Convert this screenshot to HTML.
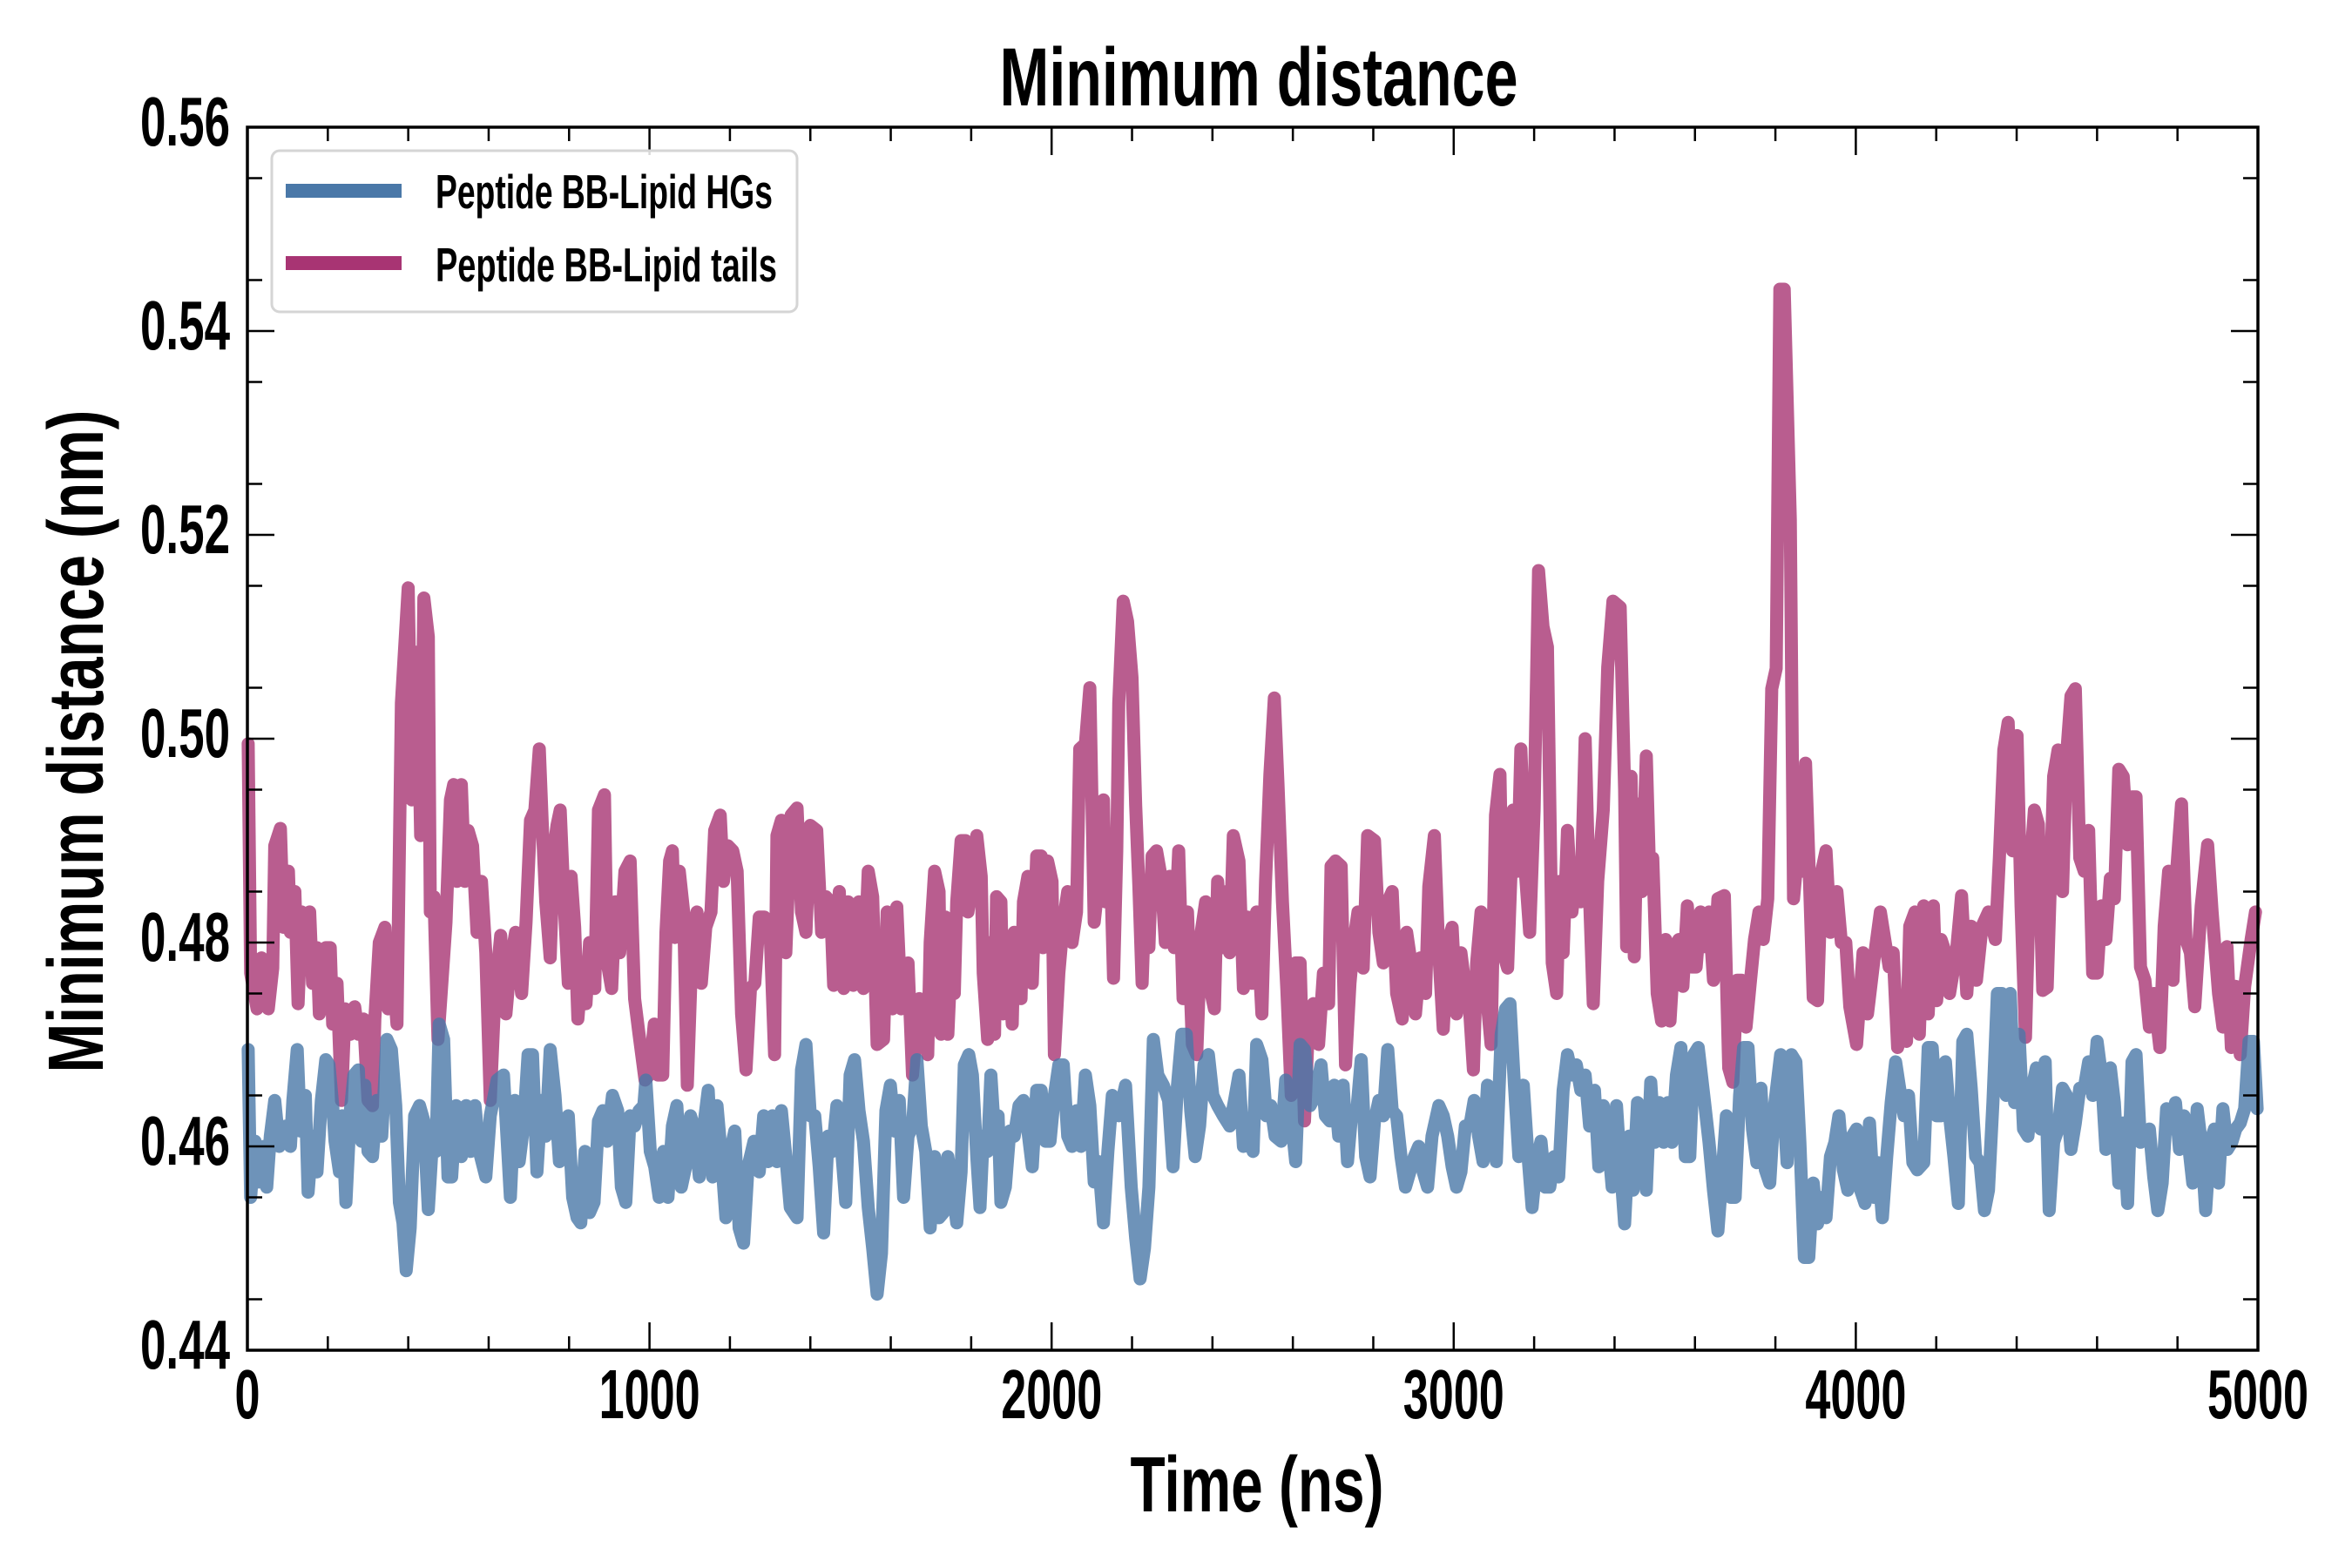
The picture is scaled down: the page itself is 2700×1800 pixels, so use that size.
<!DOCTYPE html>
<html><head><meta charset="utf-8"><style>
html,body{margin:0;padding:0;background:#fff}
svg{display:block}
text{font-family:"Liberation Sans Narrow","Liberation Sans",sans-serif;font-weight:bold;fill:#000}
</style></head><body>
<svg id="chart" width="2700" height="1800" viewBox="0 0 2700 1800">
<rect width="2700" height="1800" fill="#fff"/>
<g id="series"></g>
<g id="axes"></g>
<text x="1445" y="121" font-size="95" text-anchor="middle" textLength="595" lengthAdjust="spacingAndGlyphs">Minimum distance</text>
<text x="1443" y="1735" font-size="90" text-anchor="middle" textLength="291" lengthAdjust="spacingAndGlyphs">Time (ns)</text>
<text transform="translate(118,851) rotate(-90)" x="0" y="0" font-size="90" text-anchor="middle" textLength="761" lengthAdjust="spacingAndGlyphs">Minimum distance (nm)</text>
<g>
<rect x="312" y="173" width="603" height="185" rx="9" ry="9" fill="#fff" fill-opacity="0.85" stroke="#d5d5d5" stroke-width="3"/>
<g>
<rect x="328" y="211" width="133" height="16" fill="#4a78a8"/>
<text x="500" y="239" font-size="55" textLength="387" lengthAdjust="spacingAndGlyphs">Peptide BB-Lipid HGs</text>
</g>
<g>
<rect x="328" y="294" width="133" height="16" fill="#a83473"/>
<text x="500" y="323" font-size="55" textLength="392" lengthAdjust="spacingAndGlyphs">Peptide BB-Lipid tails</text>
</g>
</g>
</svg>
<script>
const xTicks=[0,1000,2000,3000,4000,5000];
const xTickLabels=["0","1000","2000","3000","4000","5000"];
const yTicks=[0.44,0.46,0.48,0.50,0.52,0.54,0.56];
const yTickLabels=["0.44","0.46","0.48","0.50","0.52","0.54","0.56"];
const tailsT=[2,8,24,35,52,63,68,82,90,102,107,118,126,135,146,155,162,173,179,195,206,212,223,234,243,256,267,276,289,300,311,317,328,342,350,361,372,383,400,409,422,431,439,450,455,464,474,494,505,513,521,532,541,549,560,571,582,593,604,615,630,643,654,667,682,693,704,715,726,734,742,753,762,770,778,787,798,805,814,822,833,842,851,864,873,888,895,906,915,926,939,952,963,974,989,999,1012,1021,1033,1041,1050,1057,1063,1074,1085,1094,1107,1118,1129,1140,1153,1162,1176,1184,1195,1207,1218,1229,1240,1251,1262,1273,1286,1300,1311,1317,1328,1339,1352,1367,1378,1389,1400,1416,1428,1439,1450,1458,1472,1483,1494,1507,1521,1532,1544,1555,1566,1582,1591,1604,1615,1626,1643,1654,1671,1692,1698,1709,1720,1725,1736,1742,1753,1758,1764,1775,1786,1792,1803,1814,1825,1830,1841,1847,1858,1863,1874,1880,1891,1902,1907,1913,1924,1930,1941,1952,1963,1974,1979,1990,2001,2007,2018,2029,2040,2051,2062,2070,2084,2095,2106,2117,2129,2134,2145,2154,2162,2167,2178,2189,2200,2209,2217,2225,2234,2242,2250,2261,2272,2283,2294,2305,2316,2327,2338,2350,2361,2372,2383,2394,2405,2413,2424,2435,2443,2452,2466,2477,2488,2499,2510,2523,2532,2543,2554,2563,2574,2585,2596,2607,2618,2629,2640,2651,2664,2676,2689,2695,2706,2720,2731,2742,2751,2762,2775,2786,2803,2814,2825,2836,2847,2858,2872,2883,2894,2905,2917,2930,2938,2952,2963,2974,2985,2996,3007,3018,3029,3040,3049,3057,3068,3079,3093,3104,3115,3123,3134,3148,3159,3167,3178,3189,3200,3211,3222,3233,3245,3256,3264,3272,3283,3294,3305,3316,3327,3336,3347,3358,3372,3383,3396,3414,3425,3430,3441,3449,3457,3468,3479,3487,3495,3506,3517,3527,3538,3549,3560,3570,3581,3592,3603,3614,3624,3635,3646,3657,3673,3684,3694,3705,3716,3727,3738,3748,3759,3770,3781,3791,3802,3811,3822,3829,3837,3845,3856,3867,3875,3883,3894,3905,3915,3926,3937,3953,3964,3975,3985,4002,4018,4029,4045,4061,4072,4083,4093,4104,4115,4126,4134,4147,4158,4169,4180,4193,4201,4212,4223,4233,4250,4263,4276,4287,4300,4314,4330,4347,4357,4368,4379,4390,4401,4411,4422,4433,4444,4454,4465,4476,4492,4503,4514,4524,4535,4546,4557,4568,4579,4589,4600,4611,4622,4633,4643,4654,4665,4676,4687,4697,4708,4719,4730,4741,4756,4767,4778,4789,4799,4810,4821,4832,4843,4859,4875,4886,4902,4913,4923,4934,4945,4956,4967,4983,4994];
const tailsV=[0.4995,0.477,0.4735,0.4785,0.4735,0.4775,0.4895,0.4912,0.4815,0.487,0.481,0.485,0.474,0.483,0.4775,0.483,0.476,0.4795,0.473,0.4795,0.4795,0.472,0.476,0.4645,0.4735,0.471,0.4737,0.471,0.4725,0.4645,0.464,0.4725,0.480,0.4815,0.4735,0.478,0.472,0.5035,0.5148,0.494,0.5085,0.4905,0.5138,0.510,0.483,0.4845,0.4705,0.482,0.494,0.4955,0.486,0.4955,0.486,0.491,0.4895,0.481,0.486,0.479,0.4645,0.4745,0.4807,0.473,0.478,0.481,0.475,0.482,0.492,0.493,0.499,0.491,0.484,0.4785,0.489,0.4915,0.493,0.4845,0.476,0.4865,0.4815,0.4725,0.478,0.474,0.480,0.4755,0.493,0.4945,0.478,0.4755,0.484,0.479,0.487,0.488,0.4745,0.471,0.4665,0.467,0.472,0.467,0.467,0.481,0.488,0.489,0.4805,0.487,0.483,0.466,0.481,0.483,0.476,0.4815,0.483,0.491,0.4925,0.486,0.4895,0.489,0.487,0.473,0.4675,0.4755,0.476,0.4825,0.4825,0.481,0.469,0.4905,0.492,0.479,0.4925,0.4932,0.483,0.481,0.4915,0.491,0.481,0.4845,0.484,0.4758,0.485,0.4755,0.484,0.4758,0.484,0.4755,0.487,0.4845,0.470,0.4705,0.483,0.4735,0.4835,0.4735,0.478,0.467,0.4745,0.469,0.480,0.487,0.485,0.471,0.4825,0.471,0.481,0.475,0.484,0.490,0.490,0.483,0.486,0.4905,0.4865,0.477,0.4705,0.480,0.471,0.4845,0.484,0.473,0.480,0.472,0.481,0.4755,0.4745,0.484,0.4865,0.476,0.4885,0.4885,0.4795,0.488,0.486,0.469,0.477,0.482,0.485,0.480,0.483,0.499,0.4995,0.505,0.482,0.486,0.494,0.484,0.490,0.4765,0.489,0.5035,0.5135,0.5115,0.506,0.4935,0.4855,0.476,0.486,0.4795,0.4885,0.489,0.4865,0.480,0.4865,0.4795,0.489,0.4745,0.483,0.470,0.469,0.481,0.484,0.4755,0.4735,0.486,0.4795,0.485,0.479,0.4905,0.488,0.4755,0.4825,0.476,0.483,0.473,0.486,0.4965,0.504,0.4955,0.484,0.4755,0.465,0.478,0.478,0.4625,0.473,0.474,0.470,0.477,0.474,0.4875,0.488,0.4875,0.468,0.476,0.480,0.483,0.4775,0.4905,0.490,0.481,0.478,0.484,0.485,0.475,0.4725,0.481,0.478,0.473,0.4785,0.475,0.4855,0.4905,0.479,0.4715,0.480,0.4815,0.473,0.479,0.4755,0.473,0.4675,0.478,0.483,0.476,0.470,0.4925,0.4965,0.479,0.4775,0.493,0.487,0.499,0.487,0.481,0.493,0.5165,0.511,0.509,0.478,0.475,0.486,0.479,0.491,0.483,0.487,0.484,0.500,0.4865,0.474,0.486,0.493,0.507,0.5135,0.5129,0.495,0.4796,0.4963,0.4786,0.4936,0.485,0.4983,0.487,0.4883,0.475,0.4723,0.4803,0.4723,0.4796,0.4803,0.4757,0.4836,0.4776,0.4776,0.483,0.4796,0.483,0.4763,0.4843,0.4846,0.4677,0.4663,0.4763,0.4763,0.4717,0.4763,0.4803,0.483,0.4803,0.4843,0.5049,0.5069,0.5441,0.5441,0.5335,0.5215,0.4843,0.489,0.487,0.4976,0.4883,0.4746,0.4743,0.487,0.489,0.481,0.485,0.480,0.480,0.4737,0.470,0.479,0.473,0.4783,0.483,0.4803,0.4776,0.479,0.4697,0.4717,0.4703,0.4816,0.483,0.471,0.4836,0.473,0.4836,0.4743,0.4803,0.479,0.475,0.479,0.4846,0.475,0.4816,0.4763,0.4816,0.483,0.4803,0.4883,0.4989,0.5016,0.489,0.5003,0.4836,0.4707,0.487,0.493,0.4916,0.4753,0.4756,0.4963,0.4989,0.485,0.4983,0.5042,0.5049,0.4883,0.487,0.491,0.477,0.477,0.4836,0.4803,0.4863,0.4843,0.497,0.4963,0.4896,0.4943,0.4943,0.4776,0.4763,0.4717,0.475,0.4697,0.4816,0.487,0.4763,0.4876,0.4936,0.4803,0.479,0.4737,0.4836,0.4896,0.483,0.475,0.4717,0.4796,0.4697,0.4757,0.469,0.4757,0.4803,0.483];
const hgsT=[2,8,19,30,41,48,57,68,79,96,107,113,124,132,144,151,162,173,184,195,203,212,218,229,236,245,256,265,276,284,292,300,311,322,334,347,358,369,378,387,395,405,416,428,439,450,461,469,477,488,499,508,519,532,544,555,566,577,593,604,621,637,654,665,676,687,698,709,720,731,742,753,765,776,787,798,809,820,829,840,851,862,873,884,895,908,921,930,941,952,963,974,986,991,1002,1013,1024,1035,1046,1057,1068,1079,1090,1102,1113,1124,1135,1146,1157,1168,1179,1190,1201,1212,1223,1234,1245,1260,1273,1284,1295,1306,1317,1328,1339,1350,1367,1378,1389,1400,1411,1422,1433,1444,1455,1466,1477,1488,1499,1510,1521,1532,1544,1555,1566,1577,1588,1599,1610,1621,1632,1643,1654,1665,1676,1687,1698,1709,1720,1731,1742,1753,1764,1775,1783,1794,1803,1814,1822,1830,1841,1849,1860,1867,1874,1885,1896,1907,1919,1930,1941,1952,1963,1974,1985,1996,2007,2018,2029,2040,2051,2062,2073,2084,2095,2106,2117,2129,2140,2151,2167,2184,2198,2209,2220,2231,2242,2253,2264,2278,2291,2302,2313,2324,2335,2346,2357,2368,2379,2390,2401,2413,2427,2443,2455,2466,2477,2490,2501,2510,2523,2534,2545,2556,2571,2582,2593,2607,2618,2629,2643,2656,2670,2681,2692,2703,2714,2725,2736,2747,2758,2770,2781,2792,2803,2814,2825,2836,2847,2858,2869,2880,2891,2902,2913,2924,2935,2946,2963,2974,2985,2996,3007,3018,3029,3040,3051,3062,3073,3084,3095,3106,3118,3129,3140,3151,3162,3173,3184,3195,3206,3217,3228,3239,3250,3261,3272,3283,3294,3305,3316,3327,3338,3350,3361,3372,3383,3394,3405,3414,3425,3436,3446,3457,3468,3479,3490,3500,3511,3522,3533,3543,3554,3565,3576,3587,3597,3608,3624,3635,3646,3657,3667,3678,3689,3700,3711,3721,3732,3743,3754,3764,3775,3786,3797,3813,3829,3840,3851,3861,3872,3883,3894,3905,3915,3926,3937,3948,3958,3969,3980,3991,4002,4012,4023,4034,4045,4055,4066,4077,4088,4099,4109,4120,4131,4142,4153,4169,4180,4190,4201,4212,4223,4233,4244,4255,4266,4276,4287,4298,4309,4320,4330,4341,4352,4363,4374,4384,4395,4406,4417,4428,4438,4449,4460,4471,4481,4492,4503,4514,4524,4535,4546,4557,4568,4579,4589,4600,4611,4622,4633,4643,4654,4665,4676,4687,4697,4708,4719,4730,4741,4751,4762,4773,4784,4795,4805,4816,4827,4838,4849,4859,4870,4881,4892,4902,4913,4924,4935,4945,4956,4967,4978,4989,4998];
const hgsV=[0.4695,0.455,0.4605,0.4565,0.460,0.456,0.461,0.4645,0.460,0.462,0.460,0.4645,0.4695,0.4615,0.465,0.4555,0.461,0.4575,0.4645,0.4685,0.468,0.464,0.4605,0.4575,0.463,0.4545,0.4635,0.467,0.4675,0.4605,0.466,0.4595,0.459,0.4645,0.461,0.4705,0.4695,0.464,0.4545,0.4525,0.4478,0.452,0.463,0.464,0.4625,0.4538,0.461,0.4595,0.472,0.4705,0.457,0.457,0.464,0.459,0.464,0.4595,0.464,0.4595,0.457,0.463,0.4665,0.467,0.455,0.4645,0.4585,0.462,0.469,0.469,0.4575,0.4645,0.461,0.4695,0.465,0.4585,0.4595,0.463,0.455,0.453,0.4525,0.4595,0.4535,0.4545,0.4625,0.4635,0.4605,0.465,0.4635,0.456,0.4545,0.463,0.462,0.4635,0.464,0.4665,0.4595,0.458,0.455,0.4595,0.455,0.462,0.464,0.456,0.458,0.463,0.4615,0.457,0.462,0.4655,0.457,0.464,0.459,0.453,0.4595,0.4615,0.452,0.4505,0.458,0.4605,0.4575,0.463,0.4585,0.463,0.4585,0.4635,0.459,0.454,0.453,0.4675,0.470,0.463,0.463,0.458,0.4515,0.461,0.4595,0.464,0.460,0.4545,0.467,0.4685,0.4635,0.4605,0.454,0.450,0.4455,0.4495,0.4635,0.466,0.4615,0.4645,0.455,0.461,0.462,0.4685,0.462,0.4595,0.452,0.459,0.453,0.4535,0.459,0.456,0.4525,0.4575,0.468,0.469,0.467,0.459,0.454,0.461,0.4595,0.467,0.460,0.463,0.4545,0.456,0.4615,0.461,0.464,0.4645,0.4615,0.458,0.4655,0.4655,0.4605,0.4605,0.465,0.468,0.468,0.461,0.460,0.4635,0.460,0.467,0.464,0.4565,0.4585,0.4525,0.4595,0.465,0.463,0.466,0.456,0.451,0.447,0.450,0.456,0.4705,0.467,0.466,0.4645,0.458,0.466,0.471,0.471,0.4635,0.459,0.462,0.468,0.469,0.465,0.464,0.463,0.462,0.4645,0.467,0.460,0.4615,0.4595,0.470,0.4685,0.463,0.464,0.461,0.4605,0.4665,0.464,0.4585,0.470,0.4695,0.464,0.465,0.468,0.463,0.4625,0.466,0.461,0.466,0.4585,0.4635,0.463,0.4685,0.459,0.457,0.4625,0.4645,0.463,0.4695,0.4635,0.463,0.459,0.456,0.4575,0.459,0.460,0.4575,0.456,0.461,0.464,0.463,0.461,0.458,0.456,0.4575,0.462,0.462,0.4645,0.461,0.4585,0.466,0.461,0.4585,0.471,0.4735,0.474,0.466,0.459,0.466,0.4595,0.454,0.4585,0.4605,0.456,0.456,0.459,0.457,0.4655,0.469,0.467,0.468,0.4655,0.467,0.462,0.4655,0.458,0.464,0.461,0.456,0.464,0.4584,0.4524,0.461,0.4557,0.4643,0.4604,0.4557,0.4663,0.4604,0.4643,0.4604,0.4643,0.4604,0.467,0.4697,0.459,0.459,0.469,0.4697,0.4643,0.4604,0.4557,0.4517,0.457,0.463,0.455,0.455,0.465,0.4697,0.4697,0.4617,0.4584,0.4657,0.4577,0.4564,0.4637,0.469,0.4584,0.469,0.4683,0.4604,0.4491,0.4491,0.4564,0.4524,0.455,0.453,0.459,0.4604,0.463,0.4577,0.4557,0.461,0.4617,0.4557,0.4544,0.4623,0.455,0.4584,0.453,0.459,0.4643,0.4683,0.4657,0.463,0.465,0.4584,0.4577,0.4584,0.4697,0.4697,0.463,0.463,0.4683,0.463,0.459,0.4544,0.4703,0.471,0.4657,0.459,0.4584,0.4537,0.4557,0.4643,0.475,0.475,0.465,0.475,0.4643,0.471,0.4617,0.461,0.4657,0.4677,0.4617,0.4683,0.4537,0.4604,0.4617,0.4657,0.465,0.4597,0.4623,0.4657,0.4657,0.4683,0.465,0.4703,0.467,0.4597,0.4677,0.4643,0.4564,0.4623,0.4544,0.4683,0.469,0.4604,0.461,0.4617,0.457,0.4537,0.4564,0.4637,0.4617,0.4643,0.4597,0.463,0.4604,0.4564,0.4637,0.4604,0.4537,0.4604,0.4617,0.4564,0.4637,0.4597,0.4604,0.4617,0.4623,0.4637,0.4703,0.4703,0.4637];

const L=284,R=2592,T=146,B=1550,X0=0,X1=5000,Y0=0.44,Y1=0.56;
function xs(t){return L+(t-X0)/(X1-X0)*(R-L);}
function ys(v){return B-(v-Y0)/(Y1-Y0)*(B-T);}
const NS="http://www.w3.org/2000/svg";
const series=document.getElementById('series');
const axes=document.getElementById('axes');
function linePath(ts,vs){let d="";for(let i=0;i<ts.length;i++){d+=(i?"L":"M")+xs(ts[i]).toFixed(1)+","+ys(vs[i]).toFixed(1);}return d;}
const pTails=document.createElementNS(NS,'path');


pTails.setAttribute('d',linePath(tailsT,tailsV));
pTails.setAttribute('fill','none');pTails.setAttribute('stroke','#a83473');pTails.setAttribute('stroke-opacity','0.8');
pTails.setAttribute('stroke-width','15');pTails.setAttribute('stroke-linejoin','round');pTails.setAttribute('stroke-linecap','round');
series.appendChild(pTails);
const pHgs=document.createElementNS(NS,'path');


pHgs.setAttribute('d',linePath(hgsT,hgsV));
pHgs.setAttribute('fill','none');pHgs.setAttribute('stroke','#4a78a8');pHgs.setAttribute('stroke-opacity','0.8');
pHgs.setAttribute('stroke-width','15');pHgs.setAttribute('stroke-linejoin','round');pHgs.setAttribute('stroke-linecap','round');
series.appendChild(pHgs);

function ln(x1,y1,x2,y2,w){const l=document.createElementNS(NS,'line');l.setAttribute('x1',x1);l.setAttribute('y1',y1);l.setAttribute('x2',x2);l.setAttribute('y2',y2);l.setAttribute('stroke','#000');l.setAttribute('stroke-width',w);axes.appendChild(l);return l;}
for(let t=200;t<5000;t+=200){if(t%1000===0)continue;const x=xs(t);
 const a=ln(x,B,x,B-16,2.5);
 
 
 const b=ln(x,T,x,T+16,2.5);
 
 }
for(let v=0.445;v<0.56;v+=0.005){if(Math.abs(Math.round(v*100)/100-v)<1e-6)continue;const y=ys(v);
 const a=ln(L,y,L+17,y,2.5);
 
 
 const b=ln(R,y,R-17,y,2.5);
 
 }
xTicks.forEach((t,i)=>{const x=xs(t);
 const a=ln(x,B,x,B-32,2.5);
 
 
 const b=ln(x,T,x,T+32,2.5);
 
 
 const tx=document.createElementNS(NS,'text');
 
 
 tx.setAttribute('x',x);tx.setAttribute('y',1628);tx.setAttribute('font-size','80');tx.setAttribute('text-anchor','middle');
 tx.setAttribute('textLength',(xTickLabels[i].length*29).toString());tx.setAttribute('lengthAdjust','spacingAndGlyphs');
 tx.textContent=xTickLabels[i];axes.appendChild(tx);});
yTicks.forEach((v,i)=>{const y=ys(v);
 const a=ln(L,y,L+31,y,2.5);
 
 
 const b=ln(R,y,R-31,y,2.5);
 
 
 const tx=document.createElementNS(NS,'text');
 
 
 tx.setAttribute('x',264);tx.setAttribute('y',y+21);tx.setAttribute('font-size','80');tx.setAttribute('text-anchor','end');
 tx.setAttribute('textLength','103');tx.setAttribute('lengthAdjust','spacingAndGlyphs');
 tx.textContent=yTickLabels[i];axes.appendChild(tx);});
const frame=document.createElementNS(NS,'rect');


frame.setAttribute('x',L);frame.setAttribute('y',T);frame.setAttribute('width',R-L);frame.setAttribute('height',B-T);
frame.setAttribute('fill','none');frame.setAttribute('stroke','#000');frame.setAttribute('stroke-width','3.5');
axes.appendChild(frame);
</script>
</body></html>
